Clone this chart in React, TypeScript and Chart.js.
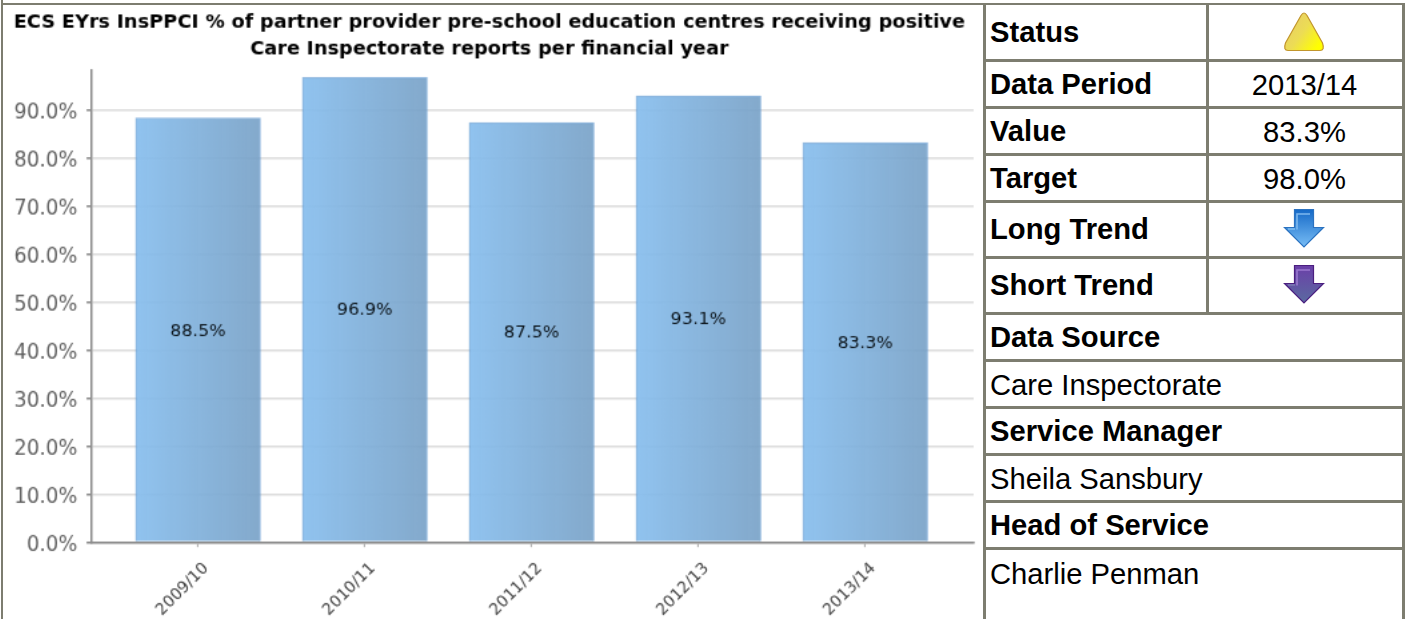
import React, { useEffect, useRef } from "react";
import { Chart, registerables } from "chart.js";

Chart.register(...registerables);

const categories = ["2009/10", "2010/11", "2011/12", "2012/13", "2013/14"];
const values = [88.5, 96.9, 87.5, 93.1, 83.3];
const titleLines = [
  "ECS EYrs InsPPCI % of partner provider pre-school education centres receiving positive",
  "Care Inspectorate reports per financial year",
];
const pairRows = [
  { label: "Status", value: "", icon: "triangle", top: 5, bottom: 60 },
  { label: "Data Period", value: "2013/14", icon: "", top: 60, bottom: 107 },
  { label: "Value", value: "83.3%", icon: "", top: 107, bottom: 154 },
  { label: "Target", value: "98.0%", icon: "", top: 154, bottom: 201 },
  { label: "Long Trend", value: "", icon: "blue", top: 201, bottom: 257 },
  { label: "Short Trend", value: "", icon: "purple", top: 257, bottom: 313 },
];
const fullRows = [
  { text: "Data Source", bold: true, top: 313, bottom: 360 },
  { text: "Care Inspectorate", bold: false, top: 360, bottom: 407 },
  { text: "Service Manager", bold: true, top: 407, bottom: 454 },
  { text: "Sheila Sansbury", bold: false, top: 454, bottom: 501 },
  { text: "Head of Service", bold: true, top: 501, bottom: 548 },
  { text: "Charlie Penman", bold: false, top: 548, bottom: 596 },
];

const LINE = "#7d7d70";
const FONT = "'DejaVu Sans', sans-serif";
const BAR_WIDTH = 125;

const barLabels = {
  id: "barLabels",
  afterDatasetsDraw(chart: any) {
    const { ctx } = chart;
    const meta = chart.getDatasetMeta(0);
    ctx.save();
    ctx.font = "17.5px " + FONT;
    ctx.fillStyle = "#0a1218";
    ctx.textAlign = "center";
    ctx.textBaseline = "middle";
    meta.data.forEach((bar: any, i: number) => {
      ctx.fillText(values[i].toFixed(1) + "%", bar.x, (bar.y + bar.base) / 2 + 1.5);
    });
    ctx.restore();
  },
};

function Icon({ kind, cx, cy }: { kind: string; cx: number; cy: number }) {
  const style: React.CSSProperties = { position: "absolute", left: cx - 21, top: cy - 21 };
  if (kind === "triangle") {
    return (
      <svg width="42" height="42" style={style}>
        <defs>
          <linearGradient id="tri" x1="0" y1="0" x2="1" y2="0.7">
            <stop offset="0" stopColor="#e6c96a" />
            <stop offset="0.55" stopColor="#ecdc55" />
            <stop offset="1" stopColor="#ffff00" />
          </linearGradient>
        </defs>
        <path
          d="M21 1 Q22.5 1 24 3.5 L39.5 31 Q42 38.5 37 38.5 L5 38.5 Q0 38.5 2.5 31 L18 3.5 Q19.5 1 21 1 Z"
          fill="url(#tri)"
          stroke="#c2962c"
          strokeWidth="1.2"
        />
      </svg>
    );
  }
  const blue = kind === "blue";
  const id = blue ? "arrowBlue" : "arrowPurple";
  return (
    <svg width="42" height="42" style={{ ...style, top: cy - 22 }}>
      <defs>
        <linearGradient id={id} x1="0" y1="0" x2="0" y2="1">
          <stop offset="0" stopColor={blue ? "#1569c7" : "#6b3fa8"} />
          <stop offset="1" stopColor={blue ? "#78bdf5" : "#5a6aa0"} />
        </linearGradient>
      </defs>
      <path
        d="M11.5 2.5 L30.5 2.5 L30.5 20.5 L40.5 20.5 L21 40 L1.5 20.5 L11.5 20.5 Z"
        fill={`url(#${id})`}
        stroke={blue ? "#2b72c0" : "#4b1f80"}
        strokeWidth="1.2"
      />
      <path
        d="M14 22.5 L14 7 L27 7"
        fill="none"
        stroke={blue ? "#7db8ee" : "#9a78d0"}
        strokeWidth="1.6"
      />
      <path d="M5 22 L12 22" fill="none" stroke={blue ? "#8cc6f5" : "#8080b8"} strokeWidth="1.2" />
    </svg>
  );
}

export default function App() {
  const ref = useRef<HTMLCanvasElement>(null);

  useEffect(() => {
    document.body.style.margin = "0";
    document.body.style.background = "#fff";
    const chart = new Chart(ref.current as HTMLCanvasElement, {
      type: "bar",
      data: {
        datasets: [
          {
            data: values.map((v, i) => ({ x: i, y: v })),
            barThickness: BAR_WIDTH,
            borderWidth: 1.5,
            borderColor: "rgba(85,145,205,0.65)",
            backgroundColor: (c: any) => {
              const ch = c.chart;
              const sx = ch.scales && ch.scales.x;
              const mid = sx && c.dataIndex !== undefined ? sx.getPixelForValue(c.dataIndex) : NaN;
              if (!Number.isFinite(mid)) return "#8cc0eb";
              const g = ch.ctx.createLinearGradient(mid - BAR_WIDTH / 2, 0, mid + BAR_WIDTH / 2, 0);
              g.addColorStop(0, "rgba(135,190,238,0.92)");
              g.addColorStop(1, "rgba(118,160,198,0.9)");
              return g;
            },
          },
        ],
      },
      options: {
        animation: false,
        responsive: false,
        devicePixelRatio: 0.75,
        layout: { padding: { left: 0, right: 10, top: 0, bottom: 0 } },
        plugins: {
          legend: { display: false },
          tooltip: { enabled: false },
          title: {
            display: true,
            text: titleLines,
            color: "#000000",
            font: { family: FONT, size: 19.3, weight: "bold", lineHeight: 1.35 },
            padding: { top: 5, bottom: 8 },
          },
        },
        scales: {
          x: {
            type: "linear",
            bounds: "data",
            offset: false,
            min: -0.638,
            max: 4.65,
            afterFit: (s: any) => {
              s.height = 77.5;
            },
            afterBuildTicks: (s: any) => {
              s.ticks = categories.map((_, i) => ({ value: i }));
            },
            grid: { offset: false, drawOnChartArea: false, tickLength: 5, color: "#888", tickColor: "#888" },
            border: { color: "#8a8a8a", width: 2 },
            ticks: {
              stepSize: 1,
              includeBounds: false,
              autoSkip: false,
              minRotation: 45,
              maxRotation: 45,
              color: "#404040",
              padding: 12,
              labelOffset: 8,
              font: { family: FONT, size: 16 },
              callback: (v: any) => categories[v as number] ?? "",
            },
          },
          y: {
            bounds: "data",
            min: 0,
            max: 98.4,
            afterFit: (s: any) => {
              s.width = 86.5;
            },
            grid: { color: "#dcdcdc", lineWidth: 2, tickLength: 5, tickColor: "#888" },
            border: { color: "#8a8a8a", width: 2 },
            ticks: {
              stepSize: 10,
              includeBounds: false,
              color: "#5e5e5e",
              padding: 9,
              labelOffset: 3,
              font: { family: FONT, size: 20 },
              callback: (v: any) => Number(v).toFixed(1) + "%",
            },
          },
        },
      },
      plugins: [barLabels],
    } as any);
    return () => chart.destroy();
  }, []);

  const text: React.CSSProperties = {
    position: "absolute",
    fontFamily: "'Liberation Sans', Arial, sans-serif",
    fontSize: 29.2,
    color: "#000",
    whiteSpace: "nowrap",
    lineHeight: "1",
  };
  const hLines = [60, 107, 154, 201, 257, 313, 360, 407, 454, 501, 548];

  return (
    <div style={{ position: "fixed", left: 0, top: 0, width: 1415, height: 619, overflow: "hidden", background: "#fff" }}>
      <canvas ref={ref} width={978} height={614} style={{ position: "absolute", left: 5, top: 5, width: 978, height: 614 }} />
      <div style={{ position: "absolute", left: 3, top: 3, width: 1402, height: 2, background: LINE }} />
      <div style={{ position: "absolute", left: 1, top: 0, width: 2, height: 619, background: LINE }} />
      <div style={{ position: "absolute", left: 983, top: 3, width: 3, height: 616, background: LINE }} />
      <div style={{ position: "absolute", left: 1402, top: 3, width: 3, height: 616, background: LINE }} />
      <div style={{ position: "absolute", left: 1206, top: 5, width: 3, height: 309, background: LINE }} />
      {hLines.map((y) => (
        <div key={y} style={{ position: "absolute", left: 984, top: y - 1, width: 420, height: 3, background: LINE }} />
      ))}
      {pairRows.map((r) => {
        const mid = (r.top + r.bottom) / 2;
        return (
          <React.Fragment key={r.label}>
            <div style={{ ...text, left: 990, top: mid - (r.icon ? 14.5 : 13.5), fontWeight: 700 }}>{r.label}</div>
            {r.value ? (
              <div style={{ ...text, left: 1207, width: 195, textAlign: "center", top: mid - 13 }}>{r.value}</div>
            ) : (
              <Icon kind={r.icon} cx={1304} cy={mid} />
            )}
          </React.Fragment>
        );
      })}
      {fullRows.map((r) => (
        <div key={r.text} style={{ ...text, left: 990, top: (r.top + r.bottom) / 2 - (r.bold ? 13.5 : 12.5), fontWeight: r.bold ? 700 : 400 }}>
          {r.text}
        </div>
      ))}
    </div>
  );
}
